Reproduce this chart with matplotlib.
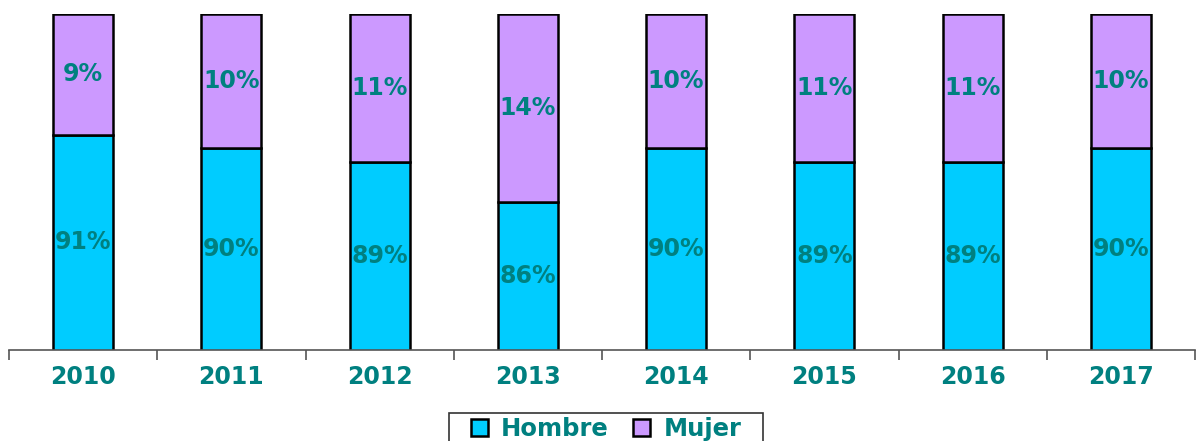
import matplotlib.pyplot as plt
import numpy as np
from matplotlib.patches import Rectangle

years = ['2010', '2011', '2012', '2013', '2014', '2015', '2016', '2017']
hombre = [91, 90, 89, 86, 90, 89, 89, 90]
mujer = [9, 10, 11, 14, 10, 11, 11, 10]

c_hombre = '#00CCFF'
c_mujer = '#CC99FF'
c_text = '#008080'
y_min, y_max = 75, 100

fig = plt.figure(figsize=(11.98, 4.41), dpi=100)
ax = fig.add_axes([9/1198, 91/441, 1186/1198, 336/441])

x = np.arange(len(years))
w = 0.405
ax.bar(x, hombre, w, color=c_hombre, edgecolor='black', linewidth=1.8, label='Hombre')
ax.bar(x, mujer, w, bottom=hombre, color=c_mujer, edgecolor='black', linewidth=1.8, label='Mujer')

# percentage labels centred on the visible part of each segment
for xi, h, m in zip(x, hombre, mujer):
    ax.text(xi, (y_min + h) / 2, f'{h}%', ha='center', va='center',
            color=c_text, fontsize=17, fontweight='bold', family='DejaVu Sans')
    ax.text(xi, h + m / 2, f'{m}%', ha='center', va='center',
            color=c_text, fontsize=17, fontweight='bold', family='DejaVu Sans')

ax.set_ylim(y_min, y_max)
ax.set_xlim(-0.5, len(years) - 0.5)
ax.set_yticks([])
for s in ['left', 'right', 'top']:
    ax.spines[s].set_visible(False)
ax.spines['bottom'].set_color('#555555')
ax.spines['bottom'].set_linewidth(1.2)

ax.set_xticks(x)
ax.set_xticklabels(years, color=c_text, fontsize=17, fontweight='bold', family='DejaVu Sans')
ax.tick_params(axis='x', which='major', length=0, pad=11)
ax.set_xticks(np.arange(-0.5, len(years)), minor=True)
ax.tick_params(axis='x', which='minor', length=7, width=1.2, color='#555555', direction='out')

leg = fig.legend(loc='upper center', bbox_to_anchor=(606/1198, 1 - 417/441), ncol=2,
                 borderaxespad=0, borderpad=0, frameon=False,
                 handlelength=0.7, handleheight=0.7, handletextpad=0.55, columnspacing=1.0,
                 prop={'family': 'DejaVu Sans', 'weight': 'bold', 'size': 17.5})
for t in leg.get_texts():
    t.set_color(c_text)

# legend box runs past the bottom edge of the figure
fig.patches.append(Rectangle((449/1198, -0.05), 314/1198, 28/441 + 0.05,
                             transform=fig.transFigure, fill=False,
                             edgecolor='#333333', linewidth=1.2))

fig.savefig('out.png', dpi=100)
